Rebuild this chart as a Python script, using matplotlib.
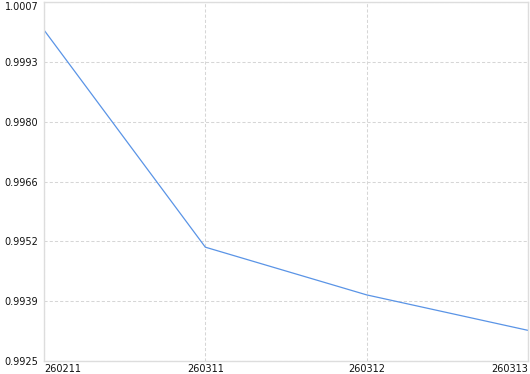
import matplotlib
matplotlib.use("Agg")
import matplotlib.pyplot as plt
import numpy as np

categories = ["260211", "260311", "260312", "260313"]
values = [1.00006, 0.99510, 0.99401, 0.99320]
y_min, y_max = 0.9925, 1.0007
n_yticks = 7

fig = plt.figure(figsize=(5.30, 3.74), dpi=100)
ax = fig.add_axes([44/530, 13/374, 484/530, 359/374])

x = np.arange(len(categories))
ax.plot(x, values, color="#5a94e6", linewidth=0.9, solid_joinstyle="miter")

ax.set_xlim(0, len(categories) - 1)
ax.set_ylim(y_min, y_max)
yt = np.linspace(y_min, y_max, n_yticks)
ax.set_yticks(yt)
ax.set_yticklabels([f"{v:.4f}" for v in yt])
ax.set_xticks(x)
ax.set_xticklabels(categories)

ax.tick_params(axis="both", length=0, labelsize=7, colors="#111111")
ax.tick_params(axis="y", pad=4)
ax.tick_params(axis="x", pad=2)

xl = ax.get_xticklabels()
xl[0].set_horizontalalignment("left")
xl[-1].set_horizontalalignment("right")
yl = ax.get_yticklabels()
yl[-1].set_verticalalignment("top")

ax.grid(True, color="#d6d6d6", linestyle=(0, (3, 2)), linewidth=0.75)
ax.set_axisbelow(True)
for s in ax.spines.values():
    s.set_color("#dddddd")
    s.set_linewidth(1.0)

fig.savefig("out.png", dpi=100)
